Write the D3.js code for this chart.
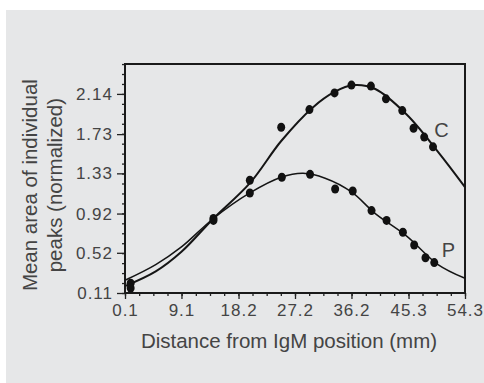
<!DOCTYPE html>
<html>
<head>
<meta charset="utf-8">
<script src="https://cdn.jsdelivr.net/npm/d3@7"></script>
<style>
    html, body { margin: 0; padding: 0; background: #fff; }
    svg { display: block; }
    text { font-family: "Liberation Sans", Arial, sans-serif; fill: #444; }
</style>
</head>
<body>
<div id="chart"></div>
<script>
let xTicks = [0.1, 9.1, 18.2, 27.2, 36.2, 45.3, 54.3]
let yTicks = [0.11, 0.52, 0.92, 1.33, 1.73, 2.14]

// measured points, C = upper peak, P = lower peak
let cPointsX = [1.0, 14.2, 20.0, 25.0, 29.5, 33.5, 36.2, 39.3, 41.7, 44.3, 46.1, 47.8, 49.2]
let cPointsY = [0.21, 0.87, 1.26, 1.80, 1.98, 2.15, 2.23, 2.22, 2.09, 1.97, 1.79, 1.70, 1.60]
let pPointsX = [1.0, 14.2, 20.0, 25.1, 29.6, 33.6, 36.4, 39.4, 41.8, 44.4, 46.2, 48.0, 49.4]
let pPointsY = [0.16, 0.85, 1.13, 1.29, 1.32, 1.17, 1.15, 0.95, 0.85, 0.73, 0.60, 0.47, 0.42]

// fitted curves
let cCurveX = [0.1, 5.0, 9.1, 14.2, 20.0, 25.0, 30.0, 33.5, 36.5, 40.0, 45.0, 50.0, 54.3]
let cCurveY = [0.18, 0.33, 0.53, 0.87, 1.23, 1.66, 2.0, 2.16, 2.23, 2.19, 1.93, 1.55, 1.19]
let pCurveX = [0.1, 5.0, 9.1, 14.2, 20.0, 25.0, 28.5, 32.0, 36.2, 40.0, 45.0, 50.0, 54.3]
let pCurveY = [0.24, 0.40, 0.58, 0.87, 1.13, 1.29, 1.33, 1.28, 1.14, 0.92, 0.69, 0.40, 0.26]

let seriesLabels = ["C", "P"]
let labelX = [49.4, 50.6]
let labelY = [1.70, 0.48]

let width = 484
let height = 383
let margins = {top: 64, right: 19, bottom: 90, left: 125}

let svg = d3.select("#chart").append("svg")
    .attr("width", width)
    .attr("height", height)

svg.append("rect")
    .attr("x", 6).attr("y", 10)
    .attr("width", width - 6).attr("height", height - 10)
    .attr("fill", "#e6e7e8")

let xScale = d3.scaleLinear()
    .domain([0.1, 54.3])
    .range([margins.left, width - margins.right])
let yScale = d3.scaleLinear()
    .domain([0.11, 2.445])
    .range([height - margins.bottom, margins.top])

// minor ticks: 4 subdivisions between labelled ticks
function subdivide(ticks, n, lo, hi) {
    let step = (ticks[1] - ticks[0]) / n
    let out = []
    for (let v = ticks[0] - step * n; v <= hi + 1e-6; v += step) {
        if (v >= lo - 1e-6) out.push(v)
    }
    return out
}
let xMinor = subdivide([0.1, 0.1 + 54.2 / 6], 4, 0.1, 54.3)
let yMinor = subdivide([0.11, 0.11 + 2.03 / 5], 4, 0.11, 2.445)

let plotBottom = height - margins.bottom

svg.append("g")
    .attr("transform", `translate(0, ${plotBottom})`)
    .call(d3.axisBottom(xScale).tickValues(xMinor).tickSize(3).tickFormat(""))
svg.append("g")
    .attr("transform", `translate(0, ${plotBottom})`)
    .call(d3.axisBottom(xScale).tickValues(xTicks).tickSize(6).tickPadding(5)
        .tickFormat(d3.format(".1f")))
svg.append("g")
    .attr("transform", `translate(${margins.left}, 0)`)
    .call(d3.axisLeft(yScale).tickValues(yMinor).tickSize(3).tickFormat(""))
svg.append("g")
    .attr("transform", `translate(${margins.left}, 0)`)
    .call(d3.axisLeft(yScale).tickValues(yTicks).tickSize(8).tickPadding(4)
        .tickFormat(d3.format(".2f")))

svg.selectAll(".domain").remove()
svg.selectAll(".tick line").attr("stroke", "#222").attr("stroke-width", 1.3)
svg.selectAll(".tick text")
    .attr("font-size", 17)
    .attr("fill", "#444")
    .attr("letter-spacing", 1)
    .style("font-family", "'Liberation Sans', Arial, sans-serif")

// frame
svg.append("rect")
    .attr("x", margins.left).attr("y", margins.top)
    .attr("width", width - margins.right - margins.left)
    .attr("height", plotBottom - margins.top)
    .attr("fill", "none")
    .attr("stroke", "#1a1a1a")
    .attr("stroke-width", 2)

let line = d3.line()
    .x(d => xScale(d[0]))
    .y(d => yScale(d[1]))
    .curve(d3.curveCatmullRom.alpha(0.5))

svg.append("path")
    .datum(d3.zip(cCurveX, cCurveY))
    .attr("d", line)
    .attr("fill", "none")
    .attr("stroke", "#151515")
    .attr("stroke-width", 2)
svg.append("path")
    .datum(d3.zip(pCurveX, pCurveY))
    .attr("d", line)
    .attr("fill", "none")
    .attr("stroke", "#151515")
    .attr("stroke-width", 1.5)

let allPoints = d3.zip(cPointsX, cPointsY).concat(d3.zip(pPointsX, pPointsY))
svg.append("g").selectAll("ellipse")
    .data(allPoints)
    .join("ellipse")
    .attr("cx", d => xScale(d[0]))
    .attr("cy", d => yScale(d[1]))
    .attr("rx", 4)
    .attr("ry", 4.5)
    .attr("fill", "#111")

svg.append("g").selectAll("text")
    .data(seriesLabels)
    .join("text")
    .attr("x", (d, i) => xScale(labelX[i]))
    .attr("y", (d, i) => yScale(labelY[i]))
    .attr("font-size", 20)
    .text(d => d)

svg.append("text")
    .attr("x", xScale(27.2) - 6)
    .attr("y", 348)
    .attr("text-anchor", "middle")
    .attr("font-size", 20.5)
    .text("Distance from IgM position (mm)")

let yTitle = ["Mean area of individual", "peaks (normalized)"]
svg.append("g").selectAll("text")
    .data(yTitle)
    .join("text")
    .attr("transform", (d, i) => `translate(${37 + i * 25}, ${yScale(1.21)}) rotate(-90)`)
    .attr("text-anchor", "middle")
    .attr("font-size", 20.5)
    .text(d => d)
</script>
</body>
</html>
